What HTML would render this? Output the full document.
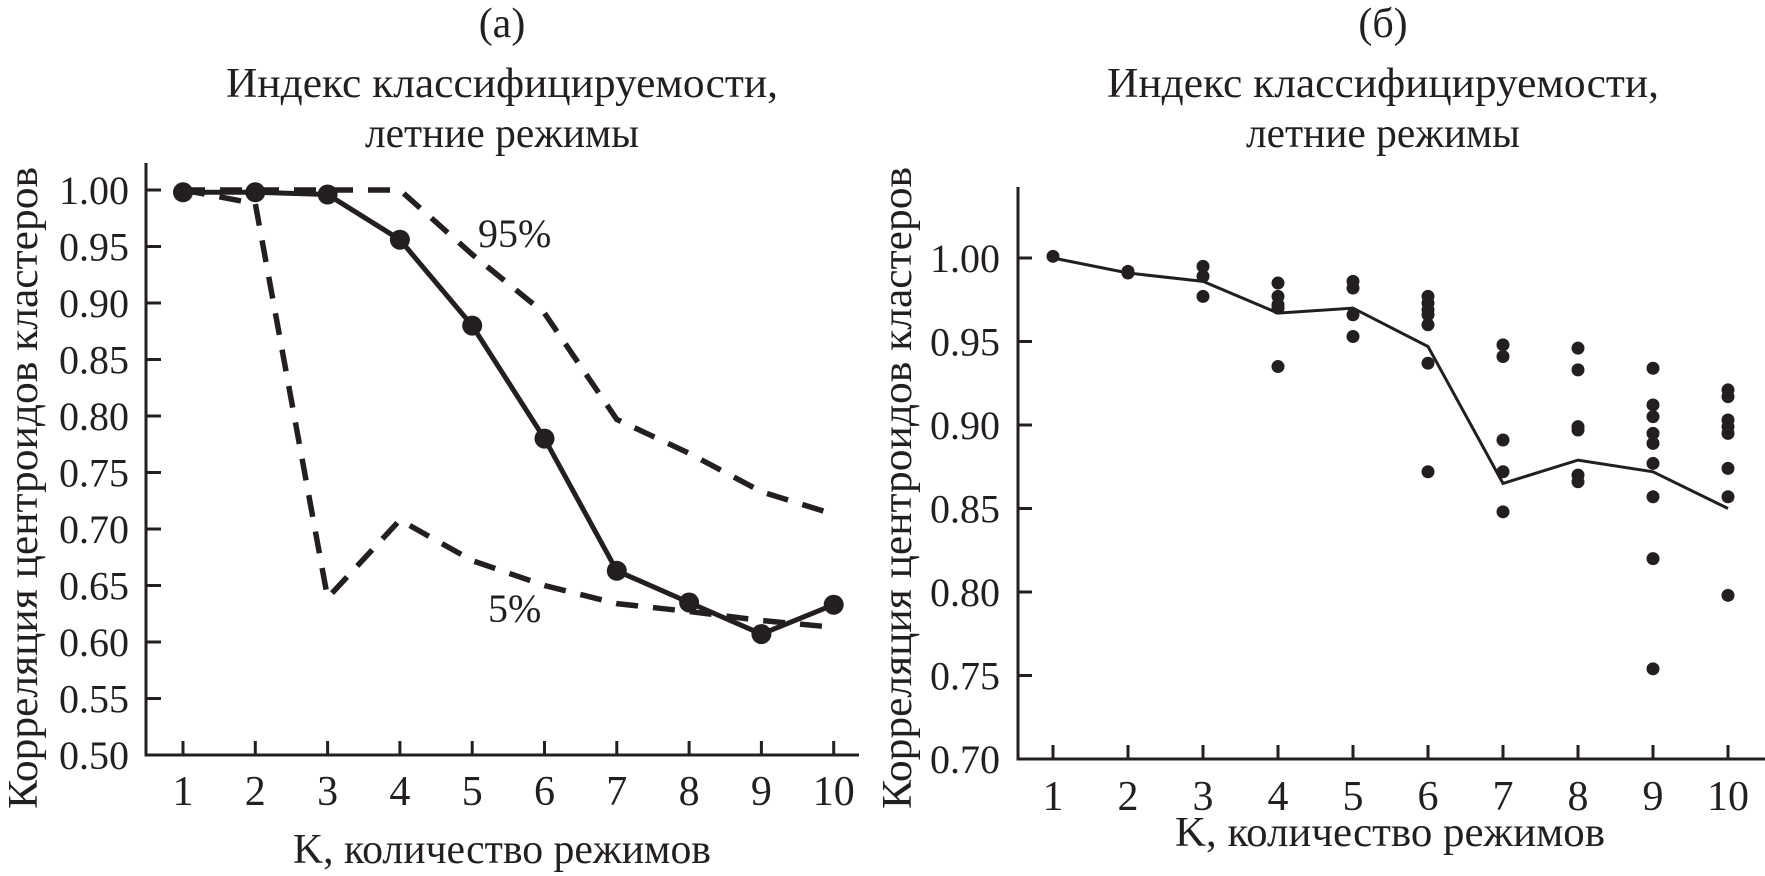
<!DOCTYPE html>
<html><head><meta charset="utf-8"><style>
html,body{margin:0;padding:0;background:#fff;}
svg{display:block;font-family:"Liberation Serif","DejaVu Serif",serif;}
svg text{font-family:"Liberation Serif","DejaVu Serif",serif;fill:#231f20;}
</style></head><body>
<svg id="fig" width="1765" height="876" viewBox="0 0 1765 876" font-family="Liberation Serif, DejaVu Serif, serif"></svg>
<script>
// ---- data: panel (a)
const kCats = [1,2,3,4,5,6,7,8,9,10];
const meanA = [0.998,0.998,0.996,0.956,0.880,0.780,0.663,0.635,0.607,0.633];
const p95A  = [1.000,1.000,1.000,1.000,0.943,0.891,0.797,0.767,0.733,0.713];
const p5A   = [1.000,0.988,0.639,0.708,0.672,0.650,0.634,0.627,0.619,0.613];
const yTicksA = [0.50,0.55,0.60,0.65,0.70,0.75,0.80,0.85,0.90,0.95,1.00];
// ---- data: panel (b)
const meanB = [1.000,0.991,0.986,0.967,0.970,0.947,0.865,0.879,0.872,0.850];
const ptsB = [
  [1.001],
  [0.991,0.992],
  [0.995,0.989,0.977],
  [0.985,0.977,0.972,0.970,0.935],
  [0.986,0.982,0.966,0.953],
  [0.977,0.973,0.969,0.966,0.960,0.937,0.872],
  [0.948,0.941,0.891,0.872,0.848],
  [0.946,0.933,0.899,0.897,0.870,0.866],
  [0.934,0.912,0.905,0.895,0.889,0.877,0.857,0.820,0.754],
  [0.921,0.917,0.903,0.899,0.895,0.874,0.857,0.798]
];
const yTicksB = [0.70,0.75,0.80,0.85,0.90,0.95,1.00];

const NS='http://www.w3.org/2000/svg';
const svg=document.getElementById('fig');
function mk(tag,attrs,parent){const e=document.createElementNS(NS,tag);for(const k in attrs)e.setAttribute(k,attrs[k]);(parent||svg).appendChild(e);return e;}
const INK='#231f20';
const FONT='Liberation Serif, DejaVu Serif, serif';

const xA=k=>183+(k-1)*72.3;
const yA=v=>755-(v-0.5)*1130;
const xB=k=>1053+(k-1)*75;
const yB=v=>759-(v-0.7)*1670;

function txt(str,x,y,size,anchor,name,extra){
  const t=mk('text',Object.assign({x:x,y:y,'font-size':size,'text-anchor':anchor||'start','font-family':FONT,fill:INK},extra||{}));
  t.textContent=str;
  
  
  return t;
}

// ===== Panel A
const gA=mk('g',{});


txt('(а)',502,37,42,'middle','panel-a-label');
txt('Индекс классифицируемости,',502,97,42,'middle','panel-a-title-line1',{textLength:552,lengthAdjust:'spacingAndGlyphs'});
txt('летние режимы',502,147,42,'middle','panel-a-title-line2',{textLength:274,lengthAdjust:'spacingAndGlyphs'});
let ax=mk('path',{d:'M146,163 V755 H859',stroke:INK,'stroke-width':3,fill:'none'},gA);


yTicksA.forEach(v=>{
  const l=mk('line',{x1:146,x2:161,y1:yA(v),y2:yA(v),stroke:INK,'stroke-width':3},gA);
  
  
  txt(v.toFixed(2),129,yA(v)+14,40,'end','y-tick-label-a');
});
kCats.forEach(k=>{
  const l=mk('line',{x1:xA(k),x2:xA(k),y1:741,y2:755,stroke:INK,'stroke-width':3},gA);
  
  
  txt(String(k),xA(k),805,42,'middle','x-tick-label-a');
});
txt('K, количество режимов',502,863,42,'middle','x-axis-title-a',{textLength:418,lengthAdjust:'spacingAndGlyphs'});
txt('Корреляция центроидов кластеров',0,0,42,'middle','y-axis-title-a',{transform:'translate(37,488) rotate(-90)',textLength:642,lengthAdjust:'spacingAndGlyphs'});
function poly(xs,ys,xf,yf){return xs.map((k,i)=>xf(k).toFixed(1)+','+yf(ys[i]).toFixed(1)).join(' ');}
let l95=mk('polyline',{points:poly(kCats,p95A,xA,yA),fill:'none',stroke:INK,'stroke-width':5.5,'stroke-dasharray':'22 15'},gA);


let l5=mk('polyline',{points:poly(kCats,p5A,xA,yA),fill:'none',stroke:INK,'stroke-width':5.5,'stroke-dasharray':'22 15'},gA);


let lm=mk('polyline',{points:poly(kCats,meanA,xA,yA),fill:'none',stroke:INK,'stroke-width':5},gA);


kCats.forEach((k,i)=>{
  const c=mk('circle',{cx:xA(k),cy:yA(meanA[i]),r:10,fill:INK},gA);
  
  
});
txt('95%',478,247,40,'start','label-95');
txt('5%',488,622,40,'start','label-5');

// ===== Panel B
const gB=mk('g',{});


txt('(б)',1383,37,42,'middle','panel-b-label');
txt('Индекс классифицируемости,',1383,97,42,'middle','panel-b-title-line1',{textLength:552,lengthAdjust:'spacingAndGlyphs'});
txt('летние режимы',1383,147,42,'middle','panel-b-title-line2',{textLength:274,lengthAdjust:'spacingAndGlyphs'});
let bx=mk('path',{d:'M1018,187 V759 H1765',stroke:INK,'stroke-width':3,fill:'none'},gB);


yTicksB.forEach(v=>{
  const l=mk('line',{x1:1018,x2:1032,y1:yB(v),y2:yB(v),stroke:INK,'stroke-width':3},gB);
  
  
  txt(v.toFixed(2),1000,yB(v)+14,40,'end','y-tick-label-b');
});
kCats.forEach(k=>{
  const l=mk('line',{x1:xB(k),x2:xB(k),y1:745,y2:759,stroke:INK,'stroke-width':3},gB);
  
  
  txt(String(k),xB(k),810,42,'middle','x-tick-label-b');
});
txt('K, количество режимов',1390,846,42,'middle','x-axis-title-b',{textLength:430,lengthAdjust:'spacingAndGlyphs'});
txt('Корреляция центроидов кластеров',0,0,42,'middle','y-axis-title-b',{transform:'translate(911,488) rotate(-90)',textLength:642,lengthAdjust:'spacingAndGlyphs'});
let mb=mk('polyline',{points:poly(kCats,meanB,xB,yB),fill:'none',stroke:INK,'stroke-width':3},gB);


ptsB.forEach((arr,i)=>{
  arr.forEach(v=>{
    const c=mk('circle',{cx:xB(kCats[i]),cy:yB(v),r:6.5,fill:INK},gB);
    
    
  });
});
</script>
</body></html>
